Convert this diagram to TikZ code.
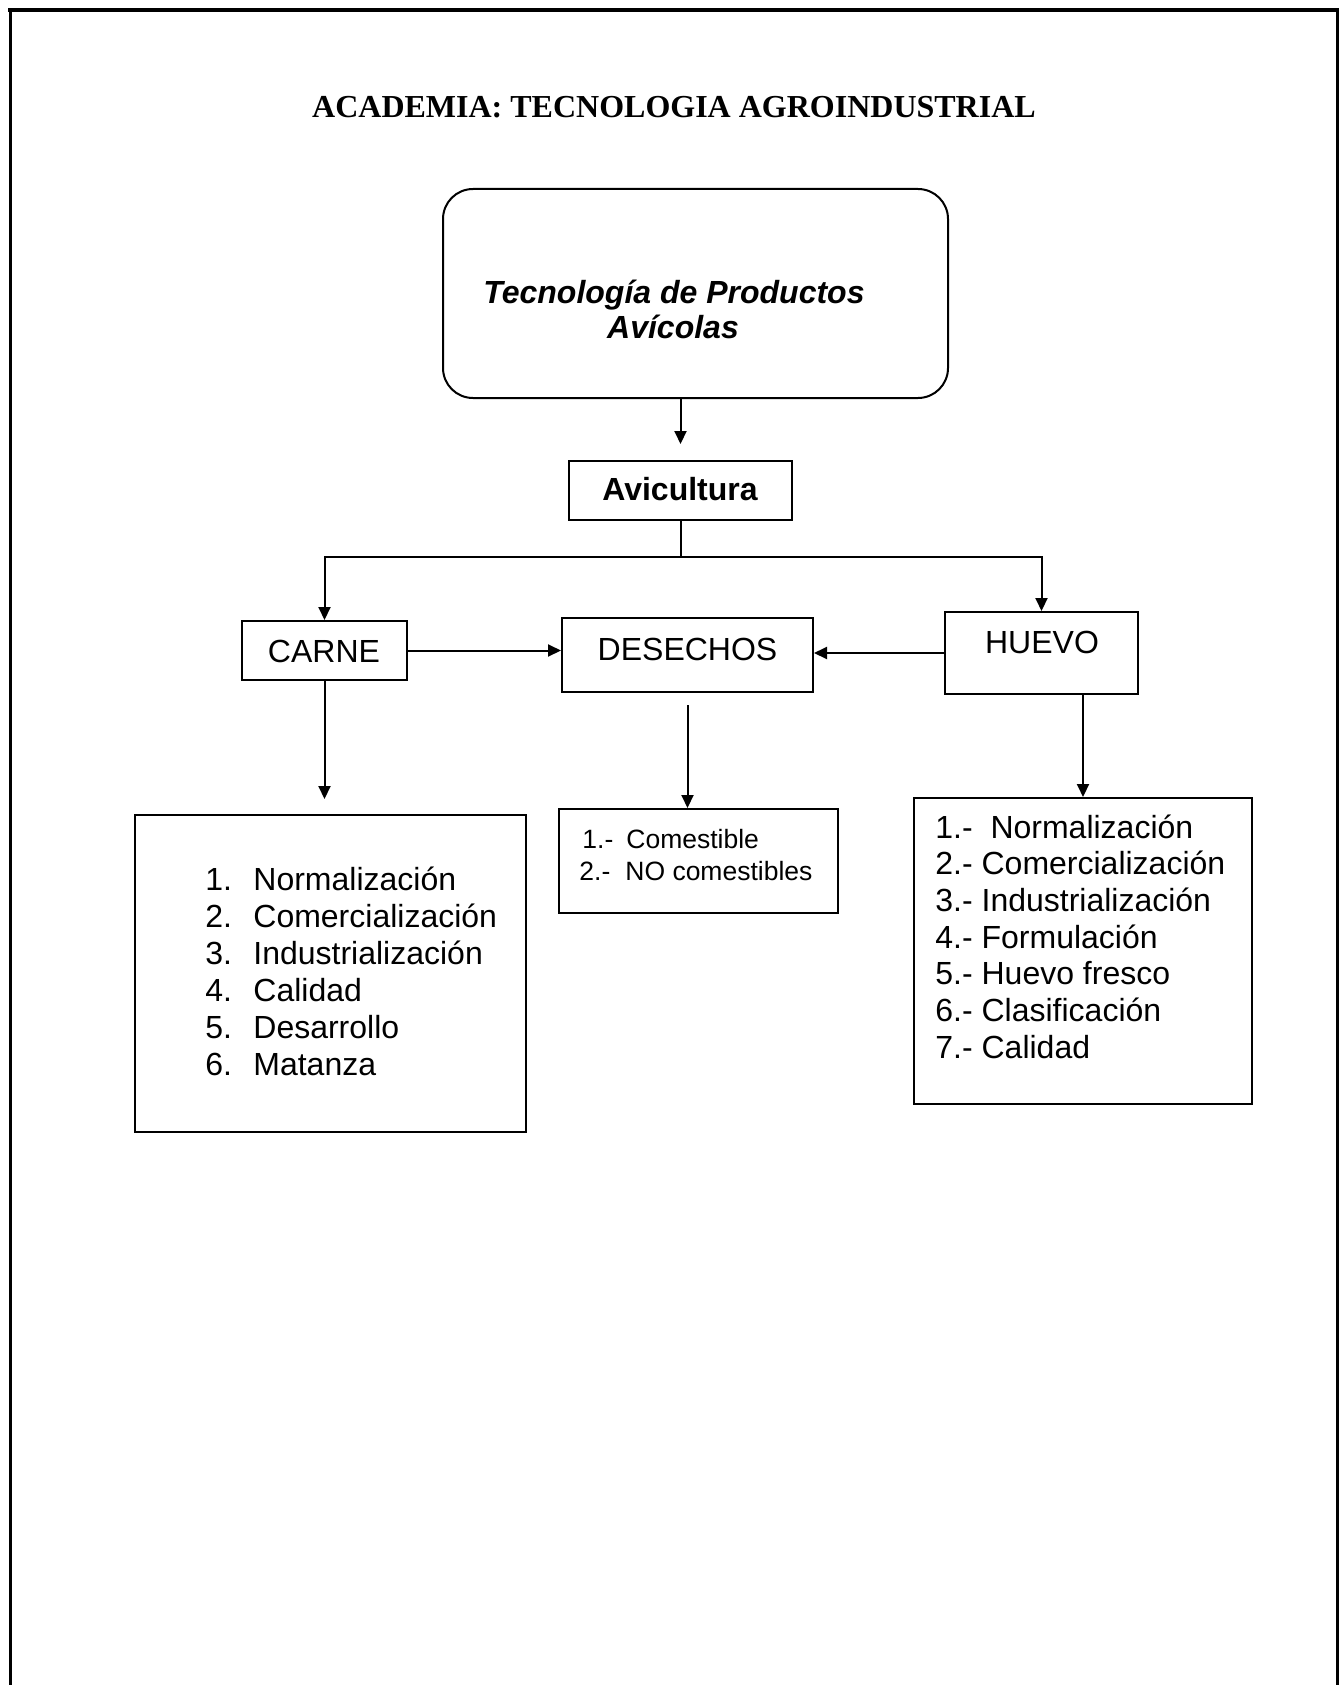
\documentclass[tikz,border=0pt]{standalone}
\usepackage{fontspec}
\setmainfont{Liberation Sans}
\newfontfamily\titlefont{Liberation Serif}
\usetikzlibrary{arrows.meta}
\begin{document}
\begin{tikzpicture}[x=0.5pt,y=-0.5pt,
  arr/.style={-{Triangle[length=6.5pt,width=6pt]}, line width=1pt},
  box/.style={draw, line width=1pt, inner sep=0pt},
  big/.style={font=\fontsize{16}{18.5}\selectfont, inner sep=0pt, anchor=base west},
  bigc/.style={font=\fontsize{16}{18.5}\selectfont, inner sep=0pt, anchor=base},
  small/.style={font=\fontsize{13.25}{15}\selectfont, inner sep=0pt, anchor=base west}]
\useasboundingbox (0,0) rectangle (1343,1685);
\fill[white] (0,0) rectangle (1343,1685);
% page frame
\draw[line width=1.5pt] (10,1685) -- (10,10) -- (1337,10) -- (1337,1685);
\draw[line width=2pt] (8,10) -- (1339,10);
% title
\node[inner sep=0pt, anchor=base, font=\titlefont\bfseries\fontsize{16}{19}\selectfont] (title) at (674,118) {ACADEMIA: TECNOLOGIA AGROINDUSTRIAL};
% root
\node[box, rounded corners=15pt, minimum width=252.5pt, minimum height=104.5pt] (root) at (695.5,293.5) {};
\node[bigc, font=\bfseries\itshape\fontsize{16}{18.5}\selectfont] (rootA) at (674,303) {Tecnología de Productos};
\node[bigc, font=\bfseries\itshape\fontsize{16}{18.5}\selectfont] (rootB) at (673,338) {Avícolas};
% avicultura
\node[box, minimum width=111.5pt, minimum height=29.5pt] (avic) at (680.5,490.5) {};
\node[bigc, font=\bfseries\fontsize{16}{18.5}\selectfont] (avicT) at (680,500) {Avicultura};
\draw[arr, shorten >=8pt] (root.south -| avic.north) -- (avic.north);
% level 2
\node[box, minimum width=82.5pt, minimum height=29.5pt] (carne) at (324.5,650.5) {};
\node[bigc] (carneT) at (324,662) {CARNE};
\node[box, minimum width=125.5pt, minimum height=37pt] (des) at (687.5,655) {};
\node[bigc] (desT) at (687.5,660) {DESECHOS};
\node[box, minimum width=96.5pt, minimum height=41pt] (huevo) at (1041.5,653) {};
\node[bigc] (huevoT) at (1042,653) {HUEVO};
\coordinate (j) at (680.5,557);
\draw[line width=1pt] (avic.south) -- (j);
\draw[arr] (j) -| (carne.north);
\draw[arr] (j) -| (huevo.north);
\draw[arr] (carne.east) -- (carne.east -| des.west);
\draw[arr] (huevo.west) -- (huevo.west -| des.east);
% level 3 boxes
\node[box, minimum width=195.5pt, minimum height=158.5pt] (cl) at (330.5,973.5) {};
\node[box, minimum width=139.5pt, minimum height=52pt] (dl) at (698.5,861) {};
\node[box, minimum width=169pt, minimum height=153pt] (hl) at (1083,951) {};
\draw[arr, shorten >=7.5pt] (carne.south) -- (carne.south |- cl.north);
\draw[arr, shorten <=6pt] (des.south) -- (des.south |- dl.north);
\draw[arr] (hl.north |- huevo.south) -- (hl.north);
% carne list
\foreach \t [count=\k] in {Normalización,Comercialización,Industrialización,Calidad,Desarrollo,Matanza}{
  \node[big] (cn\k) at (205,{890+37*(\k-1)}) {\k.};
  \node[big] (ct\k) at (253,{890+37*(\k-1)}) {\t};
}
% desechos list
\node[small] (dn1) at (582,848) {1.-};
\node[small] (dt1) at (626,848) {Comestible};
\node[small] (dn2) at (579,880) {2.-};
\node[small] (dt2) at (625,880) {NO comestibles};
% huevo list
\node[big] (h1) at (935,838) {1.-\ \ Normalización};
\foreach \t [count=\k from 2] in {Comercialización,Industrialización,Formulación,Huevo fresco,Clasificación,Calidad}{
  \node[big] (h\k) at (935,{838+36.67*(\k-1)}) {\k.- \t};
}
\end{tikzpicture}
\end{document}
